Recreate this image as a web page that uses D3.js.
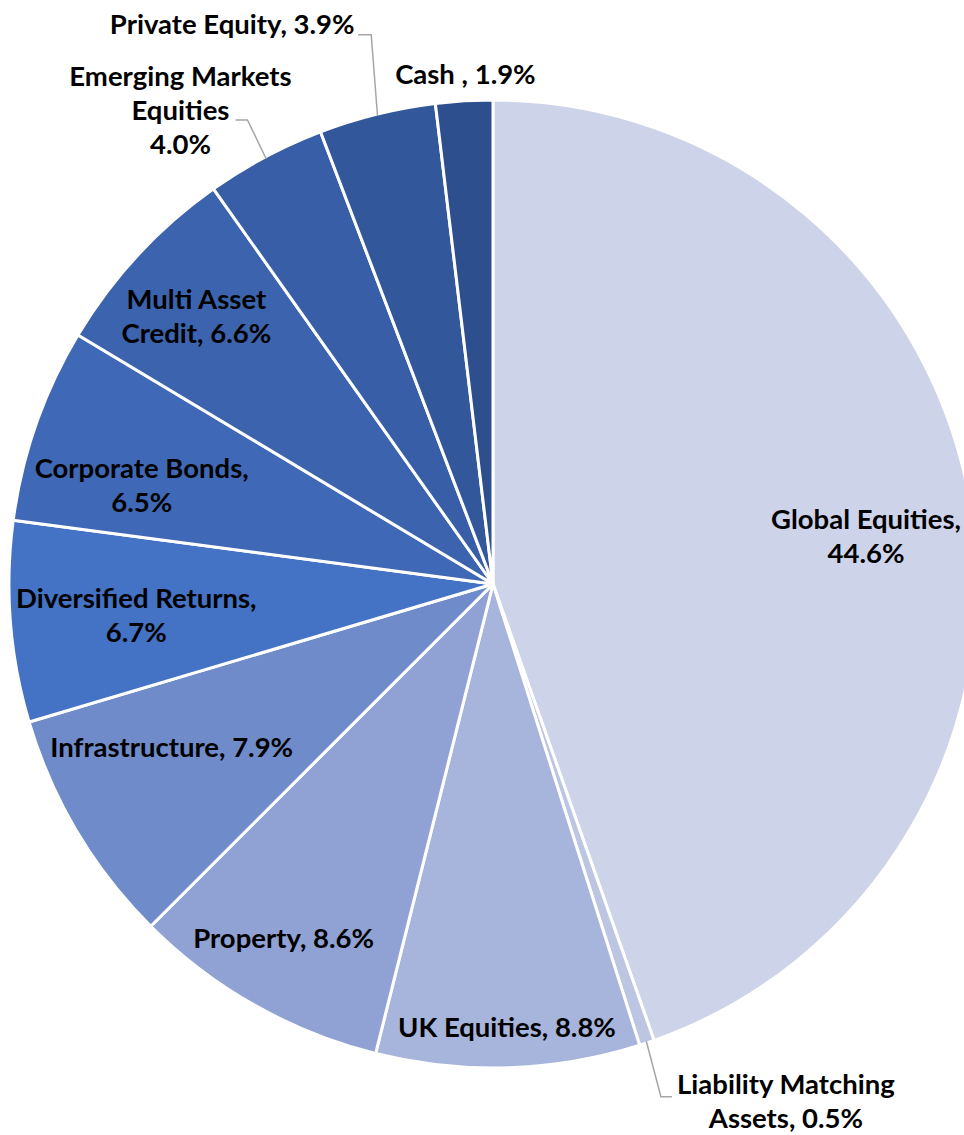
<!DOCTYPE html>
<html>
<head>
<meta charset="utf-8">
<script src="https://cdn.jsdelivr.net/npm/d3@7"></script>
<style>
  body { margin: 0; background: #fff; }
  text { font-family: Lato, "Open Sans", sans-serif; font-weight: bold; fill: #000; }
</style>
</head>
<body>
<svg id="chart"></svg>
<script>
// data, clockwise from 12 o'clock
var categories = ["Global Equities", "Liability Matching Assets", "UK Equities", "Property",
    "Infrastructure", "Diversified Returns", "Corporate Bonds", "Multi Asset Credit",
    "Emerging Markets Equities", "Private Equity", "Cash"];
var shares = [44.6, 0.5, 8.8, 8.6, 7.9, 6.7, 6.5, 6.6, 4.0, 3.9, 1.9];
var labelLines = [
    ["Global Equities,", "44.6%"],
    ["Liability Matching", "Assets, 0.5%"],
    ["UK Equities, 8.8%"],
    ["Property, 8.6%"],
    ["Infrastructure, 7.9%"],
    ["Diversified Returns,", "6.7%"],
    ["Corporate Bonds,", "6.5%"],
    ["Multi Asset", "Credit, 6.6%"],
    ["Emerging Markets", "Equities", "4.0%"],
    ["Private Equity, 3.9%"],
    ["Cash , 1.9%"]
];
var colors = ["#CDD3E9", "#BCC6E3", "#A7B4DB", "#8FA2D3", "#6F8BCA", "#4472C4",
    "#3F69B6", "#3B63AE", "#375EA6", "#33579B", "#2E4F8E"];

// label placement: [angle in degrees from top, distance as share of radius]
var labelPolar = [[82.7, 0.777], [150.5, 1.229], [178.2, 0.916], [210.6, 0.85], [243, 0.745],
    [264.9, 0.74], [285.7, 0.754], [312.1, 0.826], [326.6, 1.173], [335.0, 1.275], [356.9, 1.055]];
// callout leader elbows (dx, dy from label centre) for outside labels
var leaders = { 1: [-125, -5, -114, -5], 8: [67, 10, 55, 10], 9: [139, 10, 126, 10] };

var width = 964, height = 1135;
var cx = 493, cy = 584, radius = 484;
var lineH = 34;

var svg = d3.select("#chart").attr("width", width).attr("height", height);
var g = svg.append("g").attr("transform", "translate(" + cx + "," + cy + ")");

var pie = d3.pie().sort(null).value(function(d) { return d; });
var arc = d3.arc().innerRadius(0).outerRadius(radius);
var arcs = pie(shares);

g.selectAll("path.slice")
    .data(arcs)
    .enter().append("path")
        .attr("class", "slice")
        .attr("d", arc)
        .attr("fill", function(d, i) { return colors[i]; })
        .attr("stroke", "#fff")
        .attr("stroke-width", 3)
        .attr("stroke-linejoin", "round");

function polar(angDeg, rr) {
    var a = angDeg * Math.PI / 180;
    return [Math.sin(a) * rr, -Math.cos(a) * rr];
}

// leader lines
Object.keys(leaders).forEach(function(k) {
    var i = +k;
    var mid = (arcs[i].startAngle + arcs[i].endAngle) / 2 * 180 / Math.PI;
    var p0 = polar(mid, radius - 2);
    var lp = polar(labelPolar[i][0], labelPolar[i][1] * radius);
    var e = leaders[k];
    var pts = [p0, [lp[0] + e[0], lp[1] + e[1]], [lp[0] + e[2], lp[1] + e[3]]];
    g.append("polyline")
        .attr("points", pts.map(function(p) { return p.join(","); }).join(" "))
        .attr("fill", "none")
        .attr("stroke", "#A6A6A6")
        .attr("stroke-width", 1.5);
});

// labels
var labels = g.selectAll("text.lbl")
    .data(arcs)
    .enter().append("text")
        .attr("class", "lbl")
        .attr("text-anchor", "middle")
        .style("font-size", "27.5px")
        .attr("transform", function(d, i) {
            var p = polar(labelPolar[i][0], labelPolar[i][1] * radius);
            return "translate(" + p[0] + "," + p[1] + ")";
        });

labels.each(function(d, i) {
    var lines = labelLines[i];
    var t = d3.select(this);
    lines.forEach(function(s, j) {
        t.append("tspan")
            .attr("x", 0)
            .attr("y", (j - (lines.length - 1) / 2) * lineH)
            .attr("dy", "0.35em")
            .text(s);
    });
});
</script>
</body>
</html>
